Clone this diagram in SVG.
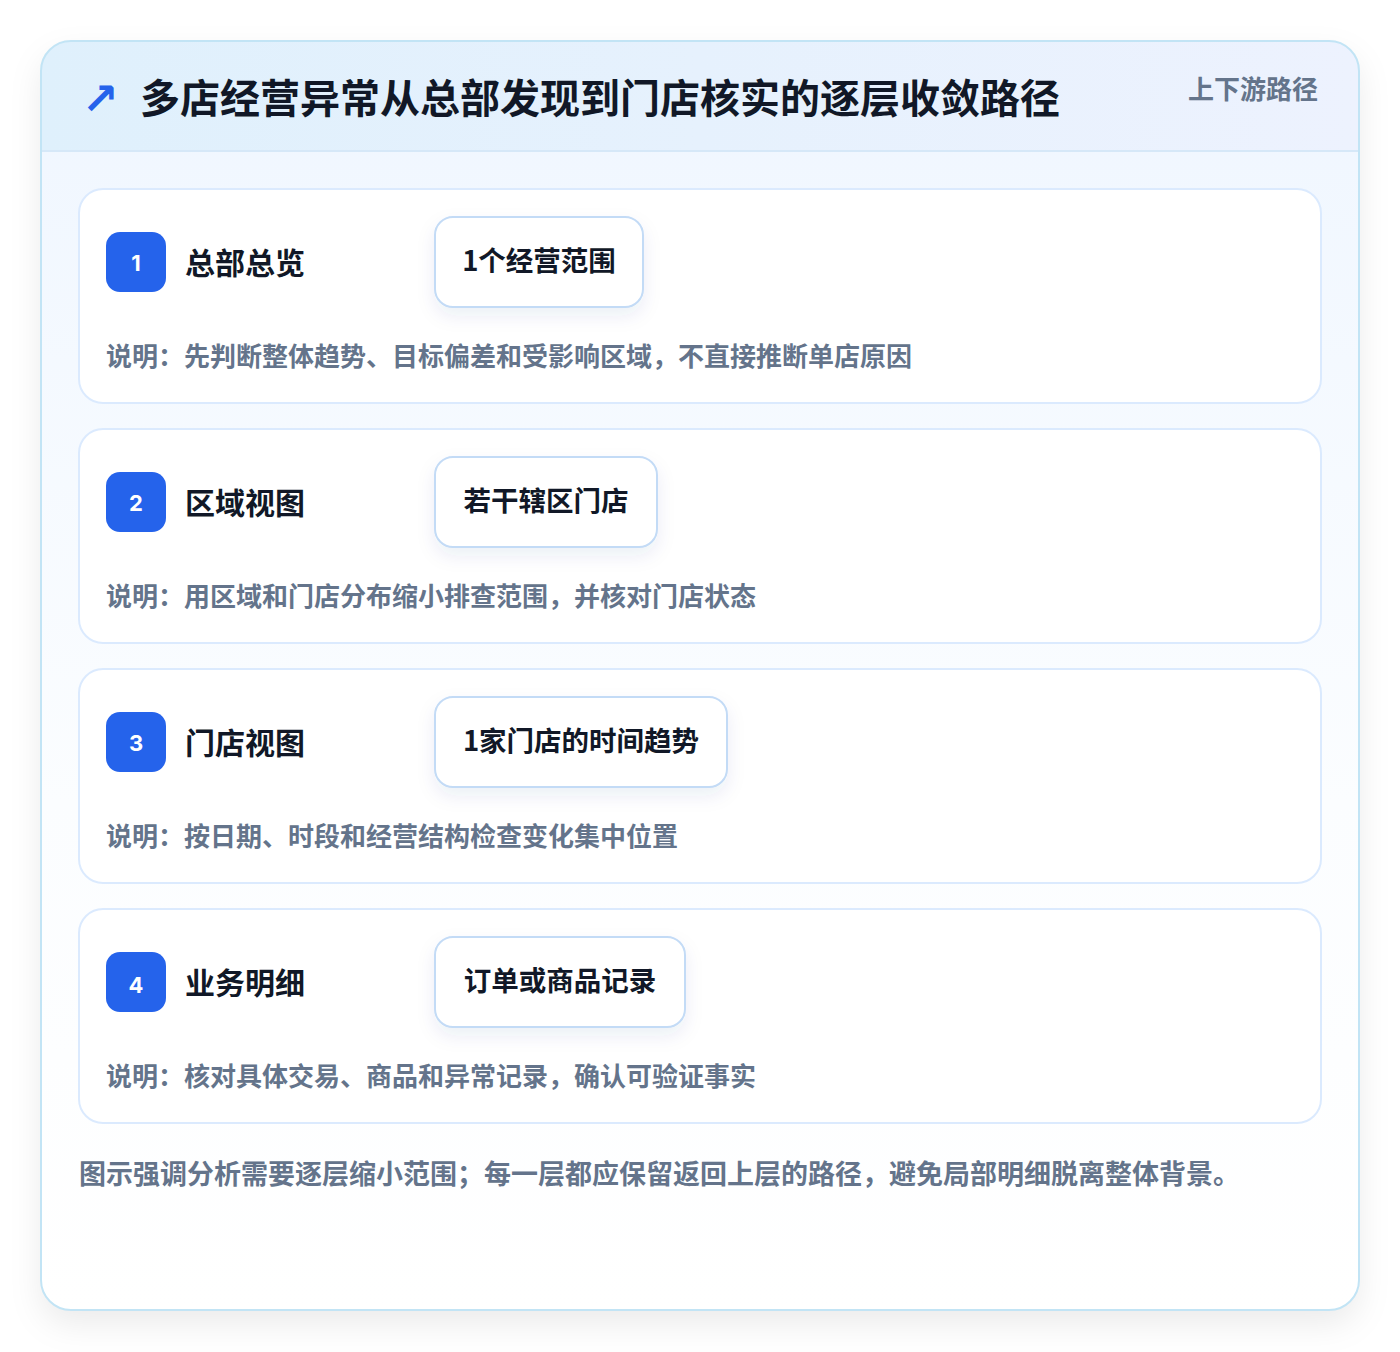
<svg xmlns="http://www.w3.org/2000/svg" width="1400" height="1352" viewBox="0 0 1400 1352">
<defs>
<linearGradient id="hdr" x1="0" y1="0" x2="1" y2="0">
<stop offset="0" stop-color="#dff0fc"/>
<stop offset="1" stop-color="#edf2fe"/>
</linearGradient>
<linearGradient id="body" x1="0" y1="0" x2="0" y2="1">
<stop offset="0" stop-color="#eff6ff"/>
<stop offset="0.6" stop-color="#fbfdff"/>
<stop offset="1" stop-color="#ffffff"/>
</linearGradient>
<clipPath id="outerClip"><rect x="41" y="41" width="1318" height="1269" rx="30"/></clipPath>
<filter id="outerShadow" x="-10%" y="-10%" width="120%" height="120%">
<feDropShadow dx="0" dy="14" stdDeviation="16" flood-color="#0f172a" flood-opacity="0.08"/>
</filter>
<filter id="chipShadow" x="-20%" y="-30%" width="140%" height="170%">
<feDropShadow dx="0" dy="8" stdDeviation="9" flood-color="#1e3a8a" flood-opacity="0.08"/>
</filter>
<style>
.card{fill:#ffffff;stroke:#dbeafe;stroke-width:2}
.badge{fill:#2563eb}
.num{font-family:"Inter","Liberation Sans",sans-serif;font-weight:700;font-size:22px;fill:#ffffff;text-anchor:middle}
.stitle{font-family:"Noto Sans CJK SC",sans-serif;font-weight:700;font-size:30px;fill:#111827}
.chip{fill:#ffffff;stroke:#c3dbf6;stroke-width:2}
.chiptext{font-family:"Noto Sans CJK SC",sans-serif;font-weight:700;font-size:27.5px;fill:#111827;text-anchor:middle}
.desc{font-family:"Noto Sans CJK SC",sans-serif;font-weight:700;font-size:26px;fill:#64748b}
</style>
</defs>
<rect width="1400" height="1352" fill="#ffffff"/>
<g id="frame">
<rect x="41" y="41" width="1318" height="1269" rx="30" fill="#ffffff" filter="url(#outerShadow)"/>
<g clip-path="url(#outerClip)">
<rect x="41" y="41" width="1318" height="1269" fill="url(#body)"/>
<rect x="41" y="41" width="1318" height="110" fill="url(#hdr)"/>
<line x1="41" y1="151" x2="1359" y2="151" stroke="#d6e8f8" stroke-width="2"/>
</g>
<rect x="41" y="41" width="1318" height="1269" rx="30" fill="none" stroke="#c2e4f5" stroke-width="2"/>
</g>
<g id="header">
<text x="82" y="114" font-family="DejaVu Sans,sans-serif" font-weight="700" font-size="44" fill="#2563eb">↗</text>
<text x="140" y="113" font-family="Noto Sans CJK SC,sans-serif" font-weight="700" font-size="40" fill="#111827">多店经营异常从总部发现到门店核实的逐层收敛路径</text>
<text x="1188" y="99" font-family="Noto Sans CJK SC,sans-serif" font-weight="700" font-size="26" fill="#64748b">上下游路径</text>
</g>
<g id="connectors"></g>
<g id="step1">
<rect class="card" x="79" y="189" width="1242" height="214" rx="24"/>
<rect class="badge" x="106" y="232" width="60" height="60" rx="14"/>
<text class="num" x="136" y="271">1</text>
<text class="stitle" x="185" y="274">总部总览</text>
<rect class="chip" x="435" y="217" width="208" height="90" rx="18" filter="url(#chipShadow)"/>
<text class="chiptext" x="539" y="271">1个经营范围</text>
<text class="desc" x="106" y="366">说明：先判断整体趋势、目标偏差和受影响区域，不直接推断单店原因</text>
</g>
<g id="step2">
<rect class="card" x="79" y="429" width="1242" height="214" rx="24"/>
<rect class="badge" x="106" y="472" width="60" height="60" rx="14"/>
<text class="num" x="136" y="511">2</text>
<text class="stitle" x="185" y="514">区域视图</text>
<rect class="chip" x="435" y="457" width="222" height="90" rx="18" filter="url(#chipShadow)"/>
<text class="chiptext" x="546" y="511">若干辖区门店</text>
<text class="desc" x="106" y="606">说明：用区域和门店分布缩小排查范围，并核对门店状态</text>
</g>
<g id="step3">
<rect class="card" x="79" y="669" width="1242" height="214" rx="24"/>
<rect class="badge" x="106" y="712" width="60" height="60" rx="14"/>
<text class="num" x="136" y="751">3</text>
<text class="stitle" x="185" y="754">门店视图</text>
<rect class="chip" x="435" y="697" width="292" height="90" rx="18" filter="url(#chipShadow)"/>
<text class="chiptext" x="581" y="751">1家门店的时间趋势</text>
<text class="desc" x="106" y="846">说明：按日期、时段和经营结构检查变化集中位置</text>
</g>
<g id="step4">
<rect class="card" x="79" y="909" width="1242" height="214" rx="24"/>
<rect class="badge" x="106" y="952" width="60" height="60" rx="14"/>
<text class="num" x="136" y="993">4</text>
<text class="stitle" x="185" y="994">业务明细</text>
<rect class="chip" x="435" y="937" width="250" height="90" rx="18" filter="url(#chipShadow)"/>
<text class="chiptext" x="560" y="991">订单或商品记录</text>
<text class="desc" x="106" y="1086">说明：核对具体交易、商品和异常记录，确认可验证事实</text>
</g>
<g id="footer">
<text x="79" y="1184" font-family="Noto Sans CJK SC,sans-serif" font-weight="700" font-size="27" fill="#64748b">图示强调分析需要逐层缩小范围；每一层都应保留返回上层的路径，避免局部明细脱离整体背景。</text>
</g>
</svg>
